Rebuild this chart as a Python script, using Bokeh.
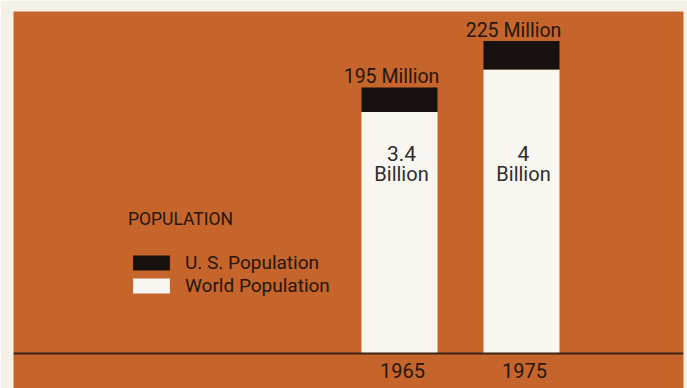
from bokeh.plotting import figure
from bokeh.models import ColumnDataSource, Range1d, Span, Legend, LegendItem
from bokeh.core.properties import value
from bokeh.embed import file_html
from bokeh.resources import INLINE

# ---- data ----
years = [1965, 1975]
year_labels = ["1965", "1975"]
world_pop_billion = [3.4, 4.0]
world_labels = ["3.4", "4"]
us_pop_million = [195, 225]
us_labels = ["195 Million", "225 Million"]

# ---- styles ----
ORANGE = "#C6652B"
CREAM = "#F5F1E6"
BAR_WHITE = "#F8F6F0"
BAR_BLACK = "#171210"
DARK = "#24160E"
GREY = "#2F2C2B"
FONT_NAME = "Roboto"
FONT = value(FONT_NAME)
STYLE = "normal"

# the U.S. band is drawn enlarged on the world scale, as in the original
US_EXAGGERATION = 1.78
us_band = [u / 1000 * US_EXAGGERATION for u in us_pop_million]
tops = [w + b for w, b in zip(world_pop_billion, us_band)]

src = ColumnDataSource(dict(
    x=years, world=world_pop_billion, top=tops,
    us_label=us_labels, world_label=world_labels, year=year_labels,
))

p = figure(width=687, height=388, output_backend="svg", toolbar_location=None,
           x_range=Range1d(1933.36, 1988.28), y_range=Range1d(-0.493, 4.817),
           x_axis_type=None, y_axis_type=None,
           min_border_left=13, min_border_right=4, min_border_top=11, min_border_bottom=0,
           background_fill_color=ORANGE, border_fill_color=CREAM,
           outline_line_color=None)
p.grid.visible = False

BAR_W = 6.23
white_r = p.vbar(x="x", bottom=0, top="world", width=BAR_W, source=src,
                 fill_color=BAR_WHITE, line_color=None)
black_r = p.vbar(x="x", bottom="world", top="top", width=BAR_W, source=src,
                 fill_color=BAR_BLACK, line_color=None)

p.add_layout(Span(location=0, dimension="width", line_color="#3A2214", line_width=2))

# labels above bars
p.text(x="x", y="top", text="us_label", source=src, text_align="center",
       text_baseline="alphabetic", x_offset=-8, y_offset=-11,
       text_font=FONT, text_font_style=STYLE, text_font_size="19.5px", text_color=DARK)
# labels inside bars
p.text(x="x", y=2.70, text="world_label", source=src, text_align="center",
       text_baseline="alphabetic", x_offset=2, y_offset=-8, text_font=FONT,
       text_font_style=STYLE, text_font_size="21px", text_color=GREY)
p.text(x="x", y=2.41, text=value("Billion"), source=src, text_align="center",
       text_baseline="alphabetic", x_offset=2, y_offset=-8, text_font=FONT,
       text_font_style=STYLE, text_font_size="20px", text_color=GREY)
# year labels
p.text(x="x", y=0, text="year", source=src, text_align="center",
       text_baseline="alphabetic", x_offset=3, y_offset=17, text_font=FONT,
       text_font_style=STYLE, text_font_size="20px", text_color=DARK)

legend = Legend(items=[LegendItem(label="U. S. Population", renderers=[black_r]),
                       LegendItem(label="World Population", renderers=[white_r])],
                title="POPULATION", location=(115, 91),
                background_fill_alpha=0, border_line_color=None,
                glyph_width=46, glyph_height=19, label_standoff=11,
                label_height=15, spacing=0, padding=0, margin=0,
                title_standoff=22,
                title_text_font=FONT_NAME, title_text_font_size="17.5px",
                title_text_font_style=STYLE, title_text_color=DARK,
                label_text_font=FONT_NAME, label_text_font_size="19px",
                label_text_font_style=STYLE, label_text_color=DARK)
p.add_layout(legend)

open("out.html", "w").write(file_html(p, INLINE))
